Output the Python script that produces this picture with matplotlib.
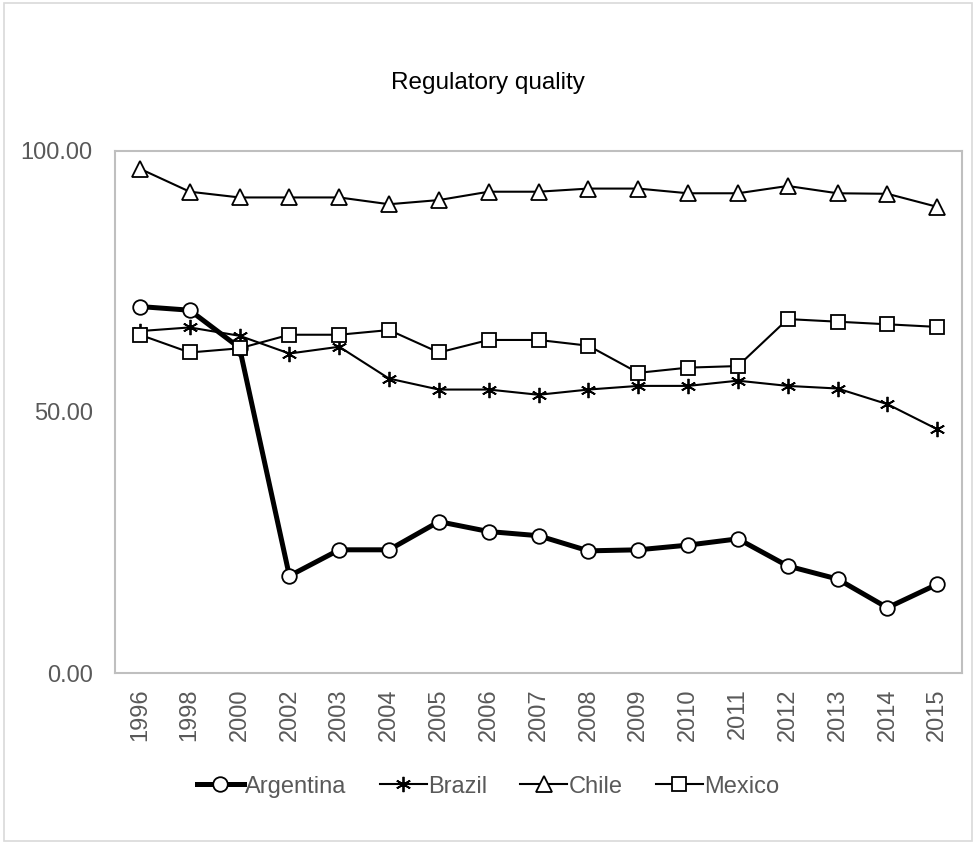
import matplotlib
matplotlib.use('AGG')
import matplotlib.pyplot as plt
from matplotlib.patches import Rectangle

plt.rcParams['font.family'] = ['Liberation Sans', 'DejaVu Sans']

years = ['1996', '1998', '2000', '2002', '2003', '2004', '2005', '2006', '2007',
         '2008', '2009', '2010', '2011', '2012', '2013', '2014', '2015']

argentina = [70.2, 69.5, 62.3, 18.6, 23.6, 23.6, 29.0, 27.1, 26.3,
             23.4, 23.6, 24.5, 25.7, 20.5, 18.0, 12.5, 17.0]
brazil = [65.5, 66.2, 64.6, 61.2, 62.5, 56.4, 54.3, 54.3, 53.3,
          54.3, 55.0, 55.0, 56.0, 55.0, 54.5, 51.5, 46.7]
chile = [96.6, 92.2, 91.1, 91.1, 91.1, 89.8, 90.6, 92.2, 92.2,
         92.8, 92.8, 91.9, 91.9, 93.3, 91.9, 91.8, 89.3]
mexico = [64.8, 61.4, 62.2, 64.8, 64.8, 65.7, 61.4, 63.8, 63.8,
          62.7, 57.5, 58.5, 58.8, 67.8, 67.3, 66.8, 66.3]

fig = plt.figure(figsize=(9.76, 8.44), dpi=100)
ax = fig.add_axes([0.1178, 0.2026, 0.868, 0.6185])

# later series are drawn on top of earlier ones
x = list(range(len(years)))
ax.plot(x, argentina, color='black', lw=3.6, marker='o', ms=10.5,
        mfc='white', mec='black', mew=1.3, label='Argentina')
ax.plot(x, brazil, color='black', lw=1.5, marker=(6, 2, 0), ms=11,
        mec='black', mew=1.3, label='Brazil')
ax.plot(x, chile, color='black', lw=1.5, marker='^', ms=12,
        mfc='white', mec='black', mew=1.3, label='Chile')
ax.plot(x, mexico, color='black', lw=1.5, marker='s', ms=10,
        mfc='white', mec='black', mew=1.3, label='Mexico')

ax.set_xlim(-0.5, len(years) - 0.5)
ax.set_ylim(0, 100)
ax.set_yticks([0, 50, 100])
ax.set_yticklabels(['0.00', '50.00', '100.00'])
ax.set_xticks(x)
ax.set_xticklabels(years, rotation=90)
ax.tick_params(axis='both', length=0, labelsize=17, colors='#595959')
ax.tick_params(axis='x', pad=11)
ax.tick_params(axis='y', pad=16)
for s in ax.spines.values():
    s.set_color('#BFBFBF')
    s.set_linewidth(1.5)

fig.text(0.5, 0.902, 'Regulatory quality', ha='center', va='center',
         fontsize=17.5, color='black')

fig.legend(loc='center', bbox_to_anchor=(0.5, 0.068), ncol=4, frameon=False,
           fontsize=17, labelcolor='#595959', handlelength=2.0,
           handletextpad=0.05, columnspacing=1.4)

fig.patches.append(Rectangle((0.004, 0.004), 0.992, 0.992, transform=fig.transFigure,
                             fill=False, edgecolor='#D9D9D9', lw=1.2))

plt.savefig('out.png', dpi=100)
